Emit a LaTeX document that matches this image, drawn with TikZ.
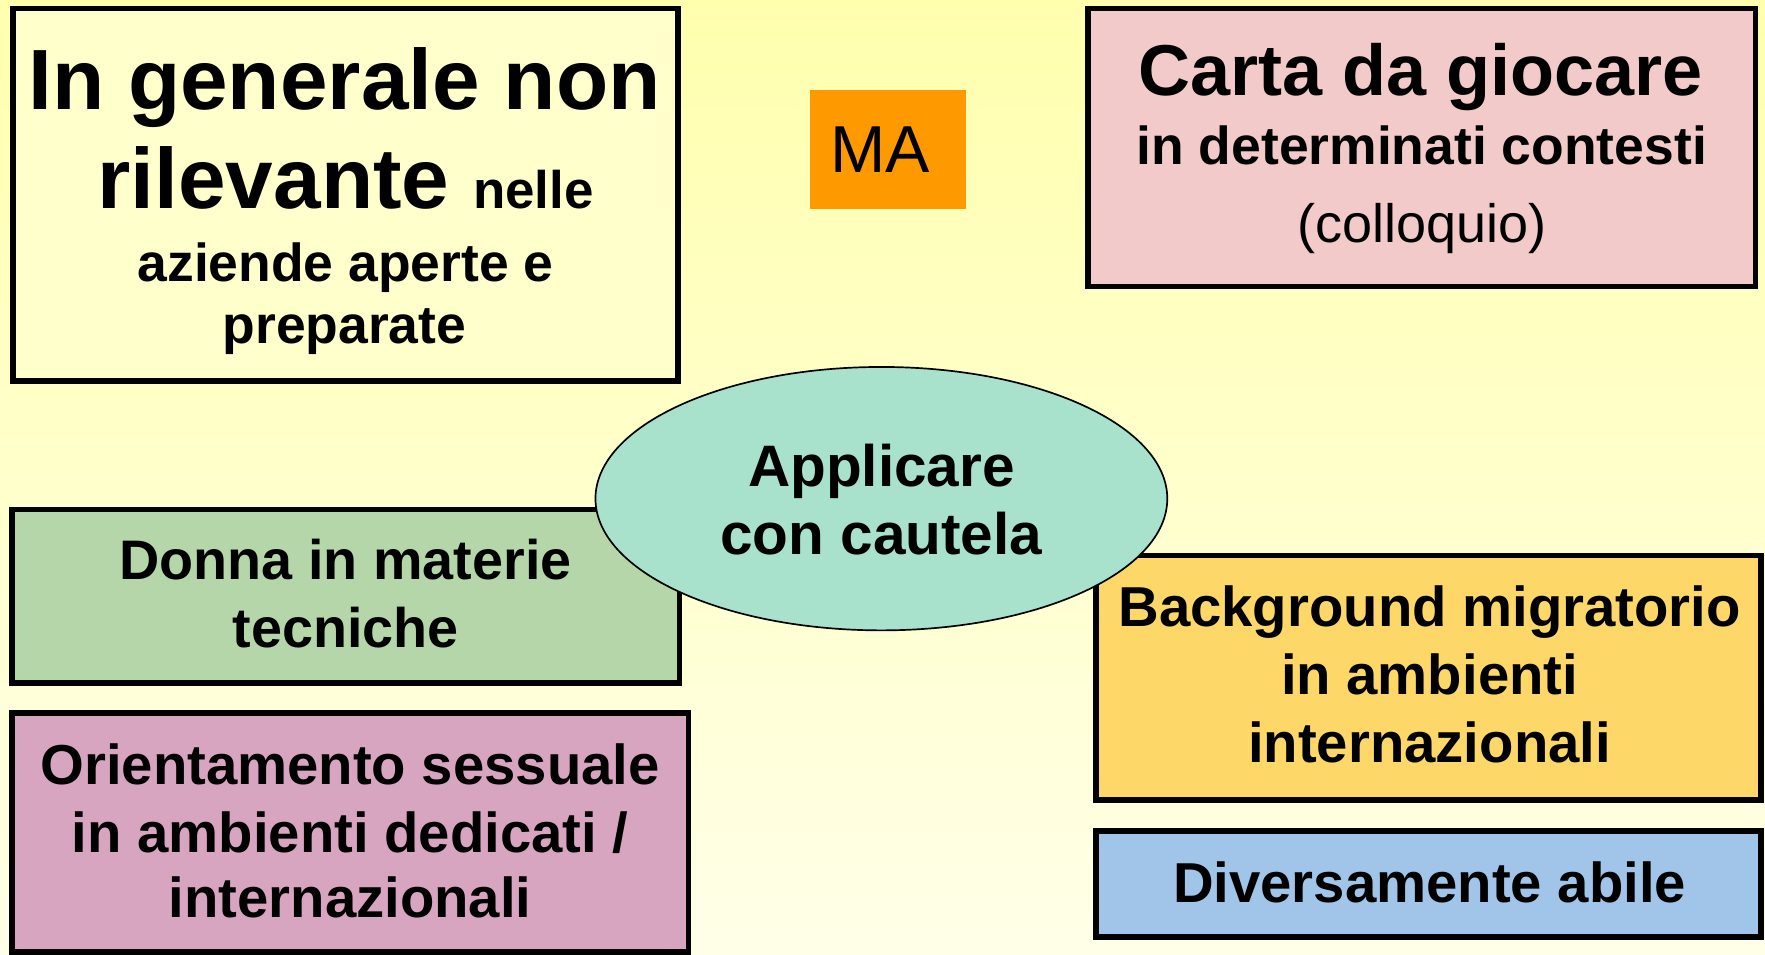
\documentclass[tikz,border=0pt]{standalone}
\usepackage{fontspec}
\setmainfont{Liberation Sans}
\usetikzlibrary{shapes.geometric}
\definecolor{bgtop}{HTML}{FFFFAE}
\definecolor{bgbot}{HTML}{FFFFE8}
\definecolor{cyellow}{HTML}{FFFFCC}
\definecolor{cpink}{HTML}{F2CACA}
\definecolor{cmint}{HTML}{A8E2CC}
\definecolor{cgreen}{HTML}{B4D6A8}
\definecolor{cmauve}{HTML}{D8A5C0}
\definecolor{corange}{HTML}{FDD868}
\definecolor{cblue}{HTML}{A0C5E8}
\definecolor{cma}{HTML}{FF9900}
\newcommand{\fs}[1]{\fontsize{#1}{#1}\selectfont}
\begin{document}
\begin{tikzpicture}[x=1pt,y=-1pt,
  panel/.style={draw=black, line width=5pt},
  txt/.style={anchor=base, inner sep=0pt, font=\bfseries\fs{50}},
  big/.style={anchor=base, inner sep=0pt, font=\bfseries\fs{76}}]
\useasboundingbox (0,0) rectangle (1568,848);
\shade[top color=bgtop, bottom color=bgbot] (0,0) rectangle (1568,848);
% panels
\draw[panel, fill=cyellow] (11.5,7.5) rectangle (602.5,338.5);
\draw[panel, fill=cpink] (966.5,7.5) rectangle (1559.5,254.5);
\fill[cma] (720,80) rectangle (858,186);
\draw[panel, fill=cgreen] (10.5,452.5) rectangle (603.5,606.5);
\draw[panel, fill=cmauve] (10.5,633.5) rectangle (611.5,846);
\draw[panel, fill=corange] (973.5,493.5) rectangle (1564.5,710.5);
\draw[panel, fill=cblue] (973.5,738.5) rectangle (1564.5,832.5);
\node[ellipse, draw=black, line width=1.5pt, fill=cmint, minimum width=508pt, minimum height=234pt, inner sep=0pt] (center) at (783,443) {};
% texts
\node[big] (t1a) at (306,97) {In generale non};
\node[anchor=base, inner sep=0pt] (t1b) at (307,185) {\bfseries\fs{76}rilevante \fs{47}nelle};
\node[txt, font=\bfseries\fs{47.5}] (t1c) at (307,250) {aziende aperte e};
\node[txt, font=\bfseries\fs{47.5}] (t1d) at (306,305) {preparate};
\node[txt, font=\fs{59}] (ma) at (782,153) {MA};
\node[txt, font=\bfseries\fs{64}] (t2a) at (1262,85) {Carta da giocare};
\node[txt, font=\bfseries\fs{47.5}] (t2b) at (1263,146) {in determinati contesti};
\node[txt, font=\fs{48}] (t2c) at (1263,215) {(colloquio)};
\node[txt, font=\bfseries\fs{52}] (c1) at (783,432) {Applicare};
\node[txt, font=\bfseries\fs{52}] (c2) at (783,493) {con cautela};
\node[txt, font=\bfseries\fs{49.5}] (g1) at (307,515) {Donna in materie};
\node[txt, font=\bfseries\fs{49.5}] (g2) at (307,575) {tecniche};
\node[txt] (m1) at (311,697) {Orientamento sessuale};
\node[txt] (m2) at (311,757) {in ambienti dedicati /};
\node[txt] (m3) at (311,815) {internazionali};
\node[txt] (o1) at (1270,557) {Background migratorio};
\node[txt] (o2) at (1270,617) {in ambienti};
\node[txt] (o3) at (1270,677) {internazionali};
\node[txt] (b1) at (1270,802) {Diversamente abile};
\end{tikzpicture}
\end{document}
